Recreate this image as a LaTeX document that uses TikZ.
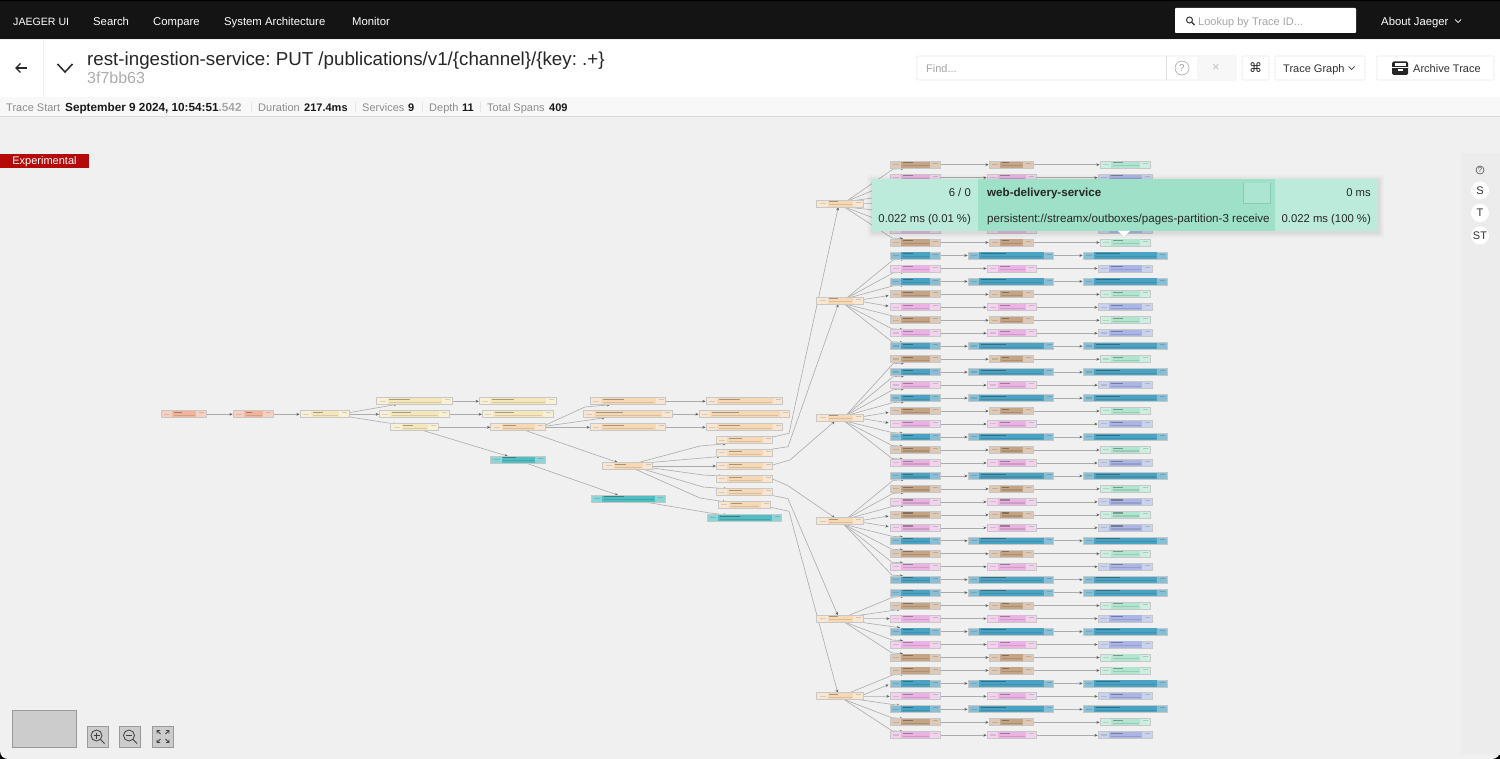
\documentclass[tikz,border=0pt]{standalone}
\usepackage{fontspec}
\setmainfont{Liberation Sans}
\newfontfamily\symfont{DejaVu Sans}
\usetikzlibrary{arrows.meta,calc}
\frenchspacing
\definecolor{pageBg}{HTML}{F0F0F0}
\definecolor{navBg}{HTML}{141414}
\definecolor{infoBg}{HTML}{F8F8F8}
\definecolor{expRed}{HTML}{B40A0A}
\definecolor{brownL}{HTML}{DDC9B6}\definecolor{brownM}{HTML}{C4A484}
\definecolor{tealL}{HTML}{86BFD6}\definecolor{tealM}{HTML}{4BA3C3}
\definecolor{pinkL}{HTML}{F3D2EE}\definecolor{pinkM}{HTML}{EBB2E4}
\definecolor{purpL}{HTML}{CBD2EE}\definecolor{purpM}{HTML}{ABB6E6}
\definecolor{greenL}{HTML}{CCEFE1}\definecolor{greenM}{HTML}{B0E6D0}
\definecolor{peachL}{HTML}{F9E6D2}\definecolor{peachM}{HTML}{F7D8B4}
\definecolor{yellL}{HTML}{F9F0D8}\definecolor{yellM}{HTML}{F5E6BC}
\definecolor{salmL}{HTML}{F6D0C2}\definecolor{salmM}{HTML}{F2B49A}
\definecolor{cyanL}{HTML}{8AD5D8}\definecolor{cyanM}{HTML}{4FBDC2}
\definecolor{popL}{HTML}{BDEBDB}\definecolor{popM}{HTML}{9EE0C8}
\definecolor{edgeC}{HTML}{ABABAB}
\definecolor{tipC}{HTML}{606060}
\pgfdeclarelayer{bg}\pgfdeclarelayer{edges}\pgfsetlayers{bg,edges,main}
\tikzset{
  spanbox/.style={rectangle,draw=black!22,line width=.8pt,inner sep=0pt,minimum height=7pt},
  edge/.style={draw=edgeC,line width=.6pt,-{Stealth[length=3.2pt,width=2.8pt,color=tipC]}},
  ui/.style={inner sep=0pt,font=\fontsize{11}{13}\selectfont},
  navt/.style={ui,text=white,anchor=base west,font=\fontsize{11.3}{13}\selectfont},
  popt/.style={ui,text=black!85,font=\fontsize{11.3}{13}\selectfont},
  mini/.style={draw=black!40,line width=.7pt,fill=black!20},
  icon/.style={draw=black!75,line width=.8pt},
  roundbtn/.style={circle,fill=white,inner sep=0pt,minimum size=18pt,font=\fontsize{11}{13}\selectfont,text=black!80},
  whitebtn/.style={draw=black!8,fill=white,line width=.7pt,rounded corners=1pt},
}
\newcommand\spn[6]{%
  \pgfmathsetmacro\spnc{(#2+#3)/2}%
  \pgfmathsetmacro\spnw{#3-#2}%
  \node[spanbox,fill=#5,minimum width=\spnw pt] (#1) at (\spnc,#4) {};
  \fill[#6] (#2+11,#4-3.1) rectangle (#3-10,#4+3.1);
  \fill[black,opacity=.32] (#2+12.5,#4-2.4) rectangle (#2+11+.42*\spnw-9,#4-1.3);
  \fill[black,opacity=.12] (#2+12.5,#4+.5) rectangle (#3-11.5,#4+1.7);
  \fill[black,opacity=.12] (#2+3,#4-.8) rectangle (#2+9,#4+.4);
  \fill[black,opacity=.15] (#3-7,#4-1.9) rectangle (#3-2,#4-.9);
}
\newcommand\rowy[1]{\pgfmathsetmacro\ry{164.7+12.968*#1}}
\begin{document}
\begin{tikzpicture}[x=1pt,y=-1pt]
\useasboundingbox (0,0) rectangle (1500,759);
\begin{pgfonlayer}{bg}
  \fill[black] (0,0) rectangle (1500,759);
  \fill[pageBg,rounded corners=8pt] (0,30) rectangle (1500,759);
  \fill[navBg] (0,1.5) rectangle (1500,39);
  \fill[white] (0,40) rectangle (1500,97);
  \fill[infoBg] (0,97) rectangle (1500,116);
  \draw[black!15,line width=.7pt] (0,116.5) -- (1500,116.5);
  \draw[black!6,line width=.7pt] (43,40) -- (43,97);
  \fill[black!1.5!pageBg] (1461,153) rectangle (1500,755);
\end{pgfonlayer}

% top bar
\node[navt,font=\fontsize{10.6}{13}\selectfont] (navA) at (13,25.5) {JAEGER UI};
\node[navt] (navB) at (93,25.5) {Search};
\node[navt] (navC) at (153,25.5) {Compare};
\node[navt] (navD) at (224,25.5) {System Architecture};
\node[navt] (navE) at (352,25.5) {Monitor};
\fill[white,rounded corners=.8pt] (1175,8) rectangle (1356,33);
\draw[black!80,line width=1pt] (1189.5,20) circle (3);
\draw[black!80,line width=1.2pt] (1191.7,22.2) -- (1194.5,25);
\node[ui,anchor=base west,text=black!35] (lookup) at (1198,25.5) {Lookup by Trace ID...};
\node[navt] (about) at (1381,25.5) {About Jaeger};
\draw[white,line width=.7pt] (1455,19.5) -- (1458,22.5) -- (1461,19.5);

% header
\draw[black!85,line width=1.3pt] (27,68) -- (16,68);
\draw[black!85,line width=1.3pt] (20.5,63.5) -- (16,68) -- (20.5,72.5);
\draw[black!85,line width=1.5pt] (57.5,64) -- (65,72) -- (72.5,64);
\node[inner sep=0pt,anchor=base west,font=\fontsize{18.75}{20}\selectfont,text=black!85] (title) at (87,65.5) {rest-ingestion-service: PUT /publications/v1/\{channel\}/\{key: .+\}};
\node[inner sep=0pt,anchor=base west,font=\fontsize{16}{18}\selectfont,text=black!32] (traceid) at (87,84) {3f7bb63};

% info bar
\node[ui,anchor=base west,text=black!45] (i1) at (6,111.5) {Trace Start};
\node[ui,anchor=base west,text=black!90,font=\fontsize{11.75}{13}\bfseries] (i2) at (65,111.5) {September 9 2024, 10:54:51\textcolor{black!35}{.542}};
\node[ui,anchor=base west,text=black!45] (i3) at (258,111.5) {Duration};
\node[ui,anchor=base west,text=black!90,font=\fontsize{11}{13}\bfseries] (i4) at (304,111.5) {217.4ms};
\node[ui,anchor=base west,text=black!45] (i5) at (362,111.5) {Services};
\node[ui,anchor=base west,text=black!90,font=\fontsize{11}{13}\bfseries] (i6) at (408,111.5) {9};
\node[ui,anchor=base west,text=black!45] (i7) at (429,111.5) {Depth};
\node[ui,anchor=base west,text=black!90,font=\fontsize{11}{13}\bfseries] (i8) at (462,111.5) {11};
\node[ui,anchor=base west,text=black!45] (i9) at (487,111.5) {Total Spans};
\foreach \sx in {251,355,422,480}{\draw[black!10,line width=.6pt] (\sx,102) -- (\sx,112);}
\node[ui,anchor=base west,text=black!90,font=\fontsize{11}{13}\bfseries] (i10) at (549,111.5) {409};

% header right controls
\draw[whitebtn] (917,56) rectangle (1236,80);
\fill[black!3] (1197,56.5) rectangle (1236,79.5);
\draw[black!12,line width=.7pt] (1166.5,56) -- (1166.5,80);
\node[ui,anchor=base west,text=black!35] (find) at (926,72.5) {Find...};
\node[circle,draw=black!30,line width=.7pt,inner sep=0pt,minimum size=14pt,text=black!35,font=\fontsize{10}{12}\selectfont] (help) at (1182,68) {?};
\node[inner sep=0pt,text=black!25,font=\fontsize{13}{15}\selectfont] (clearx) at (1216,68) {×};
\node[whitebtn,minimum width=27pt,minimum height=24pt,inner sep=0pt,text=black!85,font=\symfont\fontsize{13}{15}\selectfont] (cmd) at (1255.5,68) {⌘};
\node[whitebtn,minimum width=90pt,minimum height=24pt] (graphbtn) at (1320,68) {};
\node[ui,anchor=base west,text=black!80] (graphtxt) at (1283,72.5) {Trace Graph};
\draw[black!75,line width=.7pt] (1348.5,66.5) -- (1351.5,69.5) -- (1354.5,66.5);
\node[whitebtn,minimum width=117pt,minimum height=24pt] (archbtn) at (1435.5,68) {};
\fill[black!85,rounded corners=1.5pt] (1392,61.5) rectangle (1408,75);
\fill[white] (1394.5,63.5) rectangle (1405.5,65.7);
\fill[white] (1392,67.5) rectangle (1408,68.5);
\fill[white] (1397.5,69.5) rectangle (1402.5,71);
\node[ui,anchor=base west,text=black!80] (archtxt) at (1413,72.5) {Archive Trace};

% experimental flag
\node[fill=expRed,minimum width=89pt,minimum height=14pt,inner sep=0pt] (exp) at (44.5,161) {};
\node[ui,anchor=base,text=white] (exptxt) at (44.5,165) {Experimental};

% side controls
\node[circle,draw=black!70,line width=.6pt,inner sep=0pt,minimum size=8pt,text=black!70,font=\fontsize{7}{8}\selectfont] (qq) at (1480,170) {?};
\node[roundbtn] (bS) at (1480,190.5) {S};
\node[roundbtn] (bT) at (1480,213) {T};
\node[roundbtn] (bST) at (1480,235.5) {ST};

% minimap and zoom buttons
\node[mini,minimum width=64pt,minimum height=37pt,inner sep=0pt] (minimap) at (44,728.5) {};
\node[mini,minimum width=21pt,minimum height=21pt,inner sep=0pt] (zi) at (97.5,736.5) {};
\draw[icon] (96.5,735.5) circle (5.5);
\draw[icon] (100.5,739.5) -- (104.5,743.5);
\draw[icon,line width=.6pt] (93.5,735.5) -- (99.5,735.5) (96.5,732.5) -- (96.5,738.5);
\node[mini,minimum width=21pt,minimum height=21pt,inner sep=0pt] (zo) at (130,736.5) {};
\draw[icon] (129,735.5) circle (5.5);
\draw[icon] (133,739.5) -- (137,743.5);
\draw[icon,line width=.6pt] (126,735.5) -- (132,735.5);
\node[mini,minimum width=21pt,minimum height=21pt,inner sep=0pt] (zf) at (163,736.5) {};
\begin{scope}[black!75,line width=.9pt]
\draw (157,733.5) -- (157,730.5) -- (160,730.5) (157,730.5) -- (160.5,734);
\draw (169,733.5) -- (169,730.5) -- (166,730.5) (169,730.5) -- (165.5,734);
\draw (157,739.5) -- (157,742.5) -- (160,742.5) (157,742.5) -- (160.5,739);
\draw (169,739.5) -- (169,742.5) -- (166,742.5) (169,742.5) -- (165.5,739);
\end{scope}

% --- left spans ---
\spn{n1}{161}{206}{414.3}{salmL}{salmM}
\spn{n2}{233}{273}{414.3}{salmL}{salmM}
\spn{n3}{300}{349.3}{414.3}{yellL}{yellM}
\spn{n4}{376.7}{452.3}{401.3}{yellL}{yellM}
\spn{n5}{379.3}{449.3}{414.3}{yellL}{yellM}
\spn{n6}{390.7}{438}{427.3}{yellL}{yellM}
\spn{n7}{479.3}{556}{401.3}{yellL}{yellM}
\spn{n8}{482.3}{553}{414.3}{yellL}{yellM}
\spn{n9}{490.7}{545}{427.3}{peachL}{peachM}
\spn{n10}{490.7}{545}{459.7}{cyanL}{cyanM}
\spn{n11}{590.3}{665.7}{401.3}{peachL}{peachM}
\spn{n12}{583.3}{672.3}{414.3}{peachL}{peachM}
\spn{n13}{590.3}{665.7}{427.3}{peachL}{peachM}
\spn{n14}{706}{782.7}{401.3}{peachL}{peachM}
\spn{n15}{699}{789.7}{414.3}{peachL}{peachM}
\spn{n16}{706}{782.7}{427.3}{peachL}{peachM}
\spn{n17}{602.7}{652.7}{466}{peachL}{peachM}
\spn{n18}{591}{665}{498.7}{cyanL}{cyanM}
\spn{n19}{716.3}{772.7}{440.3}{peachL}{peachM}
\spn{n20}{716.3}{772.7}{453}{peachL}{peachM}
\spn{n21}{716.3}{772.7}{466}{peachL}{peachM}
\spn{n22}{716.3}{772.7}{479}{peachL}{peachM}
\spn{n23}{716.3}{772.7}{492.3}{peachL}{peachM}
\spn{n24}{718.3}{770.7}{505}{peachL}{peachM}
\spn{n25}{707}{781.7}{518}{cyanL}{cyanM}
% parents of the fans
\foreach \pn/\py in {p0/203.7,p1/300.7,p2/417.7,p3/521.3,p4/618.7,p5/696.3}{
  \spn{\pn}{816.5}{863}{\py}{peachL}{peachM}
}
% --- rows ---
\foreach \i in {0,6,10,12,15,19,22,25,27,30,34,38,39,43}{
  \rowy{\i}
  \spn{r\i a}{890}{940}{\ry}{brownL}{brownM}
  \spn{r\i b}{989}{1033}{\ry}{brownL}{brownM}
  \spn{r\i c}{1100}{1150}{\ry}{greenL}{greenM}
}
\foreach \i in {1,5,8,11,13,17,20,23,26,28,31,35,37,41,44}{
  \rowy{\i}
  \spn{r\i a}{890}{940}{\ry}{pinkL}{pinkM}
  \spn{r\i b}{987}{1036}{\ry}{pinkL}{pinkM}
  \spn{r\i c}{1098}{1152}{\ry}{purpL}{purpM}
}
\foreach \i in {7,9,14,16,18,21,24,29,32,33,36,40,42}{
  \rowy{\i}
  \spn{r\i a}{890}{940}{\ry}{tealL}{tealM}
  \spn{r\i b}{968}{1053.5}{\ry}{tealL}{tealM}
  \spn{r\i c}{1083}{1167}{\ry}{tealL}{tealM}
}
% rows behind the tooltip: only the fan ends are seen
\foreach \i in {2,3,4}{
  \rowy{\i}
  \coordinate (r\i a) at (915,\ry);
}

% --- connectors ---
\begin{pgfonlayer}{edges}
\draw[edge] (n1) -- (n2);
\draw[edge] (n2) -- (n3);
\draw[edge] ($(n3)+(24,-1.5)$) -- ($(n4)+(-17.5,3)$);
\draw[edge] (n3) -- (n5);
\draw[edge] ($(n3)+(24,2.5)$) -- ($(n6)+(-17.5,-3)$);
\draw[edge] (n4) -- (n7);
\draw[edge] (n5) -- (n8);
\draw[edge] (n6) -- (n9);
\draw[edge] ($(n6)+(8,3)$) -- ($(n10)+(-10,-3.5)$);
\draw[edge] ($(n9)+(27,-2)$) -- (585,407) -- ($(n11)+(-18,3.5)$);
\draw[edge] ($(n9)+(27,-1)$) -- ($(n12)+(-23,3.5)$);
\draw[edge] (n9) -- (n13);
\draw[edge] (n11) -- (n14);
\draw[edge] (n12) -- (n15);
\draw[edge] (n13) -- (n16);
\draw[edge] ($(n9)+(7,3)$) -- ($(n17)+(-10,-3.5)$);
\draw[edge] ($(n10)+(7,3)$) -- ($(n18)+(-10,-3.5)$);
\draw[edge] ($(n17)+(9,-3)$) -- (700,446) -- ($(n19)+(-18.5,3.5)$);
\draw[edge] ($(n17)+(17,-3)$) -- ($(n20)+(-24.5,3.5)$);
\draw[edge] (n17) -- (n21);
\draw[edge] ($(n17)+(25,2)$) -- (703,475) -- ($(n22)+(-22.5,-3)$);
\draw[edge] ($(n17)+(15,3)$) -- (703,487) -- ($(n23)+(-17.5,-3.5)$);
\draw[edge] ($(n17)+(7,3)$) -- (700,498) -- ($(n24)+(-18.5,-3)$);
\draw[edge] ($(n18)+(15,3)$) -- (710,513) -- ($(n25)+(-17.5,-3)$);
\draw[edge] ($(n19)+(27,-3)$) -- (789,433.3) -- ($(p0)+(-1.5,3.5)$);
\draw[edge] ($(n20)+(22,-3)$) -- (788,446.7) -- ($(p1)+(-1.5,3.5)$);
\draw[edge] ($(n21)+(28,-1)$) -- (790,460) -- ($(p2)+(-5,3.5)$);
\draw[edge] ($(n22)+(28,0)$) -- (788,485.7) -- ($(p3)+(-5,-3.5)$);
\draw[edge] ($(n23)+(27,3)$) -- (788,498.7) -- ($(p4)+(-2,-3.5)$);
\draw[edge] ($(n24)+(25,2)$) -- (789,511.3) -- ($(p5)+(-2,-3.5)$);
% fan: climbing children
\foreach \p/\i in {p0/0,p0/1,p0/2,p1/7,p1/8,p1/9,p2/15,p2/16,p2/17,p2/18,p3/24,p3/25,p3/26,p4/33,p5/39}{
  \draw[edge] ($(\p)+(6,-2)$) -- ($(r\i a)+(-22,4.5)$) -- ($(r\i a)+(-11,3.8)$);
}
% fan: descending children
\foreach \p/\i in {p0/4,p0/5,p0/6,p1/12,p1/13,p1/14,p2/21,p2/22,p2/23,p3/29,p3/30,p3/31,p3/32,p4/37,p4/38,p5/43,p5/44}{
  \draw[edge] ($(\p)+(4,3)$) -- ($(r\i a)+(-23,-4.5)$) -- ($(r\i a)+(-12,-3.8)$);
}
% fan: nearest neighbours, ending at the left side
\foreach \p/\i in {p1/10,p2/19,p3/27,p5/40}{
  \draw[edge] ($(\p.east)+(-1,-1)$) -- ($(r\i a.west)+(-1,1.2)$);
}
\foreach \p/\i in {p1/11,p2/20,p3/28}{
  \draw[edge] ($(\p.east)+(-1,1)$) -- ($(r\i a.west)+(-1,-1.2)$);
}
% fan: short hops ending under or over the first cell
\draw[edge] ($(p4)+(10,-2)$) -- ($(r34a)+(-15,3.8)$);
\draw[edge] ($(p4)+(10,2)$) -- ($(r36a)+(-15,-3.8)$);
\draw[edge] ($(p5)+(10,2)$) -- ($(r42a)+(-15,-3.8)$);
% fan: same row
\foreach \p/\i in {p0/3,p4/35,p5/41}{
  \draw[edge] (\p) -- (r\i a);
}
% rows: first to second to third cell
\foreach \i in {0,1,5,6,7,8,9,10,11,12,13,14,15,16,17,18,19,20,21,22,23,24,25,26,27,28,29,30,31,32,33,34,35,36,37,38,39,40,41,42,43,44}{
  \draw[edge] (r\i a) -- (r\i b);
  \draw[edge] (r\i b) -- (r\i c);
}
\end{pgfonlayer}

% --- tooltip ---
\foreach \s/\o in {6/.02,4/.03,2/.04}{
  \fill[black,opacity=\o,rounded corners=2pt] (872-\s+1,179-\s+2) rectangle (1378+\s,231+\s+1);
}
\fill[popL] (872,179) rectangle (1378,231);
\fill[popM] (978,179) rectangle (1275,231);
\fill[white] (1118,231) -- (1130,231) -- (1124,236.5) -- cycle;
\fill[black,opacity=.1] (1243,183.5) rectangle (1271,204);
\fill[popM!55!popL] (1243.5,183) rectangle (1270,203);
\node[popt,anchor=base east] (tipA) at (971,196.5) {6 / 0};
\node[popt,anchor=base east] (tipB) at (971,222.5) {0.022 ms (0.01 \%)};
\node[popt,anchor=base west,font=\fontsize{11.6}{13}\bfseries] (tipC) at (987,196.5) {web-delivery-service};
\node[popt,anchor=base west,font=\fontsize{11.6}{13}\selectfont] (tipD) at (987,222.5) {persistent://streamx/outboxes/pages-partition-3 receive};
\node[popt,anchor=base east] (tipE) at (1371,196.5) {0 ms};
\node[popt,anchor=base east] (tipF) at (1371,222.5) {0.022 ms (100 \%)};
\end{tikzpicture}
\end{document}
